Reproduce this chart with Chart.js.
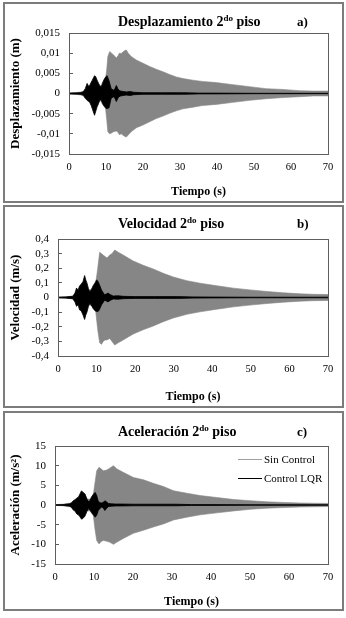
<!DOCTYPE html>
<html><head><meta charset="utf-8">
<script src="https://cdn.jsdelivr.net/npm/chart.js@4"></script>
<style>
body{margin:0;width:346px;height:618px;background:#fff;position:relative;overflow:hidden;font-family:"Liberation Serif","Times New Roman",serif;color:#000;}
.panel{position:absolute;left:3px;width:341px;box-sizing:border-box;border:2px solid #7c7c7c;}
canvas{position:absolute;left:0;}
.ttl{position:absolute;left:118px;font-weight:bold;font-size:14px;line-height:16px;white-space:nowrap;}
.ttl sup{font-size:9px;line-height:0;vertical-align:5px;}
.lab{position:absolute;left:297px;font-weight:bold;font-size:13px;line-height:16px;}
.lgl{position:absolute;left:238px;width:24px;height:1px;}
.lgt{position:absolute;left:264px;font-size:11px;line-height:14px;white-space:nowrap;}
</style></head>
<body>
<div class="panel" style="top:2px;height:201px"></div>
<div class="panel" style="top:205px;height:203px"></div>
<div class="panel" style="top:411px;height:200px"></div>
<canvas id="c1" width="346" height="205" style="top:0px"></canvas>
<canvas id="c2" width="346" height="205" style="top:205px"></canvas>
<canvas id="c3" width="346" height="205" style="top:410px"></canvas>
<div class="ttl" style="top:14px">Desplazamiento 2<sup>do</sup> piso</div><div class="lab" style="top:14px">a)</div>
<div class="ttl" style="top:216px">Velocidad 2<sup>do</sup> piso</div><div class="lab" style="top:216px">b)</div>
<div class="ttl" style="top:424px">Aceleración 2<sup>do</sup> piso</div><div class="lab" style="top:424px">c)</div>
<div class="lgl" style="top:459px;background:#a0a0a0"></div><div class="lgt" style="top:452px">Sin Control</div>
<div class="lgl" style="top:478px;background:#000"></div><div class="lgt" style="top:471px">Control LQR</div>
<script>
// ---- Data (envelopes) ----
const seriesNames = ['Sin Control', 'Control LQR'];
const xTicks = [0, 10, 20, 30, 40, 50, 60, 70];

// Panel a) Desplazamiento (m)
const dispT_sin = [0,2,4,5,6,7,8,9,9.8,10.2,10.5,11,11.5,12,12.8,13.3,13.6,14.1,15,15.5,16,16.8,18.2,20,21.8,23.6,25.4,27.2,29,30.8,33.5,36,39.8,44.3,48.8,53.3,57.8,62.3,66,70];
const dispUp_sin = [0.0001,0.0002,0.0005,0.0015,0.002,0.003,0.0018,0.002,0.003,0.006,0.0092,0.0104,0.01,0.0096,0.0088,0.0094,0.01,0.0099,0.0106,0.0108,0.01,0.0092,0.0083,0.0075,0.0067,0.006,0.0054,0.0047,0.0041,0.0037,0.0033,0.003,0.0027,0.0022,0.0017,0.0012,0.001,0.0007,0.0006,0.0006];
const dispLo_sin = [-0.0001,-0.0002,-0.0005,-0.0015,-0.002,-0.003,-0.0018,-0.002,-0.003,-0.0065,-0.0095,-0.01,-0.0098,-0.0095,-0.0093,-0.0097,-0.0102,-0.01,-0.0106,-0.0108,-0.0103,-0.0095,-0.0085,-0.0078,-0.007,-0.0062,-0.0056,-0.0049,-0.0043,-0.0038,-0.0034,-0.003,-0.0027,-0.0022,-0.0017,-0.0013,-0.001,-0.0008,-0.0006,-0.0006];
const dispT_lqr = [0,3,3.8,4.4,4.9,5.3,5.6,6.0,6.3,6.9,7.2,7.6,8.0,8.3,8.7,9.0,9.6,10.0,10.3,10.8,11.4,12.0,12.4,12.8,13.2,13.5,14.0,14.6,15.5,16.5,17.5,20,25,31,35,40,50,70];
const dispUp_lqr = [0.0001,0.0002,0.0004,0.0012,0.0025,0.0018,0.002,0.0028,0.0033,0.0044,0.0042,0.0033,0.0025,0.002,0.0015,0.0025,0.0037,0.0042,0.0044,0.0032,0.0012,0.0008,0.0012,0.002,0.0012,0.0008,0.0006,0.0005,0.0004,0.0005,0.0003,0.0002,0.0002,0.0002,0.0001,0.0001,0.00005,0.00005];
const dispLo_lqr = [-0.0001,-0.0002,-0.0004,-0.0012,-0.0017,-0.002,-0.0022,-0.003,-0.0038,-0.0054,-0.0045,-0.0033,-0.0025,-0.0017,-0.0015,-0.0025,-0.0033,-0.0037,-0.0037,-0.0036,-0.0012,-0.0008,-0.0012,-0.002,-0.0012,-0.0008,-0.0006,-0.0005,-0.0004,-0.0005,-0.0003,-0.0002,-0.0002,-0.0002,-0.0001,-0.0001,-0.00005,-0.00005];
const dispTickVals = [-0.015,-0.01,-0.005,0,0.005,0.01,0.015];
const dispTickLabels = ['-0,015','-0,01','-0,005','0','0,005','0,01','0,015'];

// Panel b) Velocidad (m/s)
const velT_sin = [0,2,4,5,6,7,8,9,9.8,10.3,10.8,11.3,11.7,12.2,12.7,13.4,14,14.7,15.6,16.9,18.2,19.5,22.1,24.7,27.3,29.9,33.4,36.8,41.2,45.5,49.8,54.2,58.5,62.8,66,70];
const velUp_sin = [0.003,0.005,0.01,0.04,0.06,0.08,0.05,0.06,0.1,0.2,0.31,0.30,0.29,0.28,0.27,0.29,0.30,0.325,0.31,0.29,0.27,0.25,0.22,0.195,0.165,0.14,0.115,0.098,0.08,0.064,0.052,0.041,0.032,0.025,0.022,0.02];
const velLo_sin = [-0.003,-0.005,-0.01,-0.04,-0.06,-0.08,-0.05,-0.06,-0.1,-0.22,-0.31,-0.32,-0.30,-0.29,-0.29,-0.28,-0.30,-0.325,-0.31,-0.29,-0.27,-0.25,-0.22,-0.195,-0.165,-0.14,-0.115,-0.098,-0.08,-0.064,-0.052,-0.041,-0.032,-0.025,-0.022,-0.02];
const velT_lqr = [0,2,3.8,4.4,4.8,5.2,5.6,6.0,6.5,6.9,7.2,7.5,7.9,8.2,8.6,9.1,9.6,10.0,10.4,10.7,11.3,12.1,12.6,13.0,13.5,14.3,15.5,17,20,25,31,35,40,50,70];
const velUp_lqr = [0.002,0.004,0.008,0.03,0.065,0.05,0.08,0.09,0.11,0.15,0.12,0.10,0.06,0.04,0.05,0.08,0.1,0.12,0.11,0.09,0.05,0.018,0.025,0.03,0.02,0.01,0.012,0.008,0.006,0.006,0.006,0.004,0.003,0.002,0.002];
const velLo_lqr = [-0.002,-0.004,-0.008,-0.03,-0.06,-0.05,-0.085,-0.09,-0.12,-0.15,-0.12,-0.10,-0.06,-0.04,-0.05,-0.075,-0.09,-0.095,-0.095,-0.085,-0.05,-0.018,-0.025,-0.03,-0.02,-0.01,-0.012,-0.008,-0.006,-0.006,-0.006,-0.004,-0.003,-0.002,-0.002];
const velTickVals = [-0.4,-0.3,-0.2,-0.1,0,0.1,0.2,0.3,0.4];
const velTickLabels = ['-0,4','-0,3','-0,2','-0,1','0','0,1','0,2','0,3','0,4'];

// Panel c) Aceleración (m/s²)
const accT_sin = [0,2,4,5,6,7,8,9,9.8,10.3,10.7,11.3,11.8,12.4,13.3,14.1,15,15.8,17.5,20.1,22.7,25.2,27.8,30.4,33.8,37.2,41.5,45.8,50,54.3,58.6,62.9,66,70];
const accUp_sin = [0.1,0.2,0.5,1.2,1.5,2.0,1.5,1.5,2.5,6.0,8.7,9.6,9.2,8.7,8.9,9.4,10.0,9.2,8.3,7.0,6.4,5.5,4.7,3.6,3.0,2.4,1.9,1.4,1.1,0.8,0.65,0.5,0.45,0.4];
const accLo_sin = [-0.1,-0.2,-0.5,-1.2,-1.5,-2.0,-1.5,-1.5,-2.5,-6.5,-9.0,-9.9,-9.3,-9.0,-9.2,-9.5,-10.0,-9.5,-8.5,-7.2,-6.4,-5.6,-4.8,-3.8,-3.1,-2.5,-2.0,-1.5,-1.1,-0.8,-0.65,-0.5,-0.45,-0.4];
const accT_lqr = [0,2,3.8,4.3,4.7,5.1,5.6,6.0,6.4,6.8,7.2,7.7,8.2,8.6,9.0,9.4,9.9,10.3,10.7,11.1,11.6,12.0,12.4,12.8,13.2,13.7,14.5,15.5,17,20,25,31,35,40,50,70];
const accUp_lqr = [0.05,0.1,0.3,0.6,1.1,1.3,1.8,2.0,2.8,3.6,3.2,2.8,1.5,0.8,1.2,2.1,2.8,3.2,2.4,0.9,0.6,0.5,0.7,1.1,0.8,0.4,0.3,0.25,0.25,0.2,0.2,0.2,0.1,0.1,0.05,0.05];
const accLo_lqr = [-0.05,-0.1,-0.3,-0.7,-1.3,-1.5,-2.3,-2.5,-3.0,-3.6,-3.4,-2.8,-1.6,-0.9,-1.3,-2.0,-2.6,-3.1,-2.6,-1.4,-0.8,-0.5,-0.8,-1.4,-0.9,-0.4,-0.3,-0.25,-0.25,-0.2,-0.2,-0.2,-0.1,-0.1,-0.05,-0.05];
const accTickVals = [-15,-10,-5,0,5,10,15];
const accTickLabels = ['-15','-10','-5','0','5','10','15'];

// ---- Chart building ----
Chart.defaults.font.family = '"Liberation Serif","Times New Roman",serif';
Chart.defaults.color = '#000';
const pts = (t, v) => t.map((x, i) => ({x: x, y: v[i]}));
const GREY = '#868686';

const framePlugin = {
  id: 'frame',
  afterDatasetsDraw(c) {
    const {ctx, chartArea: a} = c;
    ctx.save();
    ctx.strokeStyle = '#5e5e5e';
    ctx.lineWidth = 1;
    ctx.strokeRect(Math.round(a.left) + 0.5, Math.round(a.top) + 0.5, Math.round(a.right - a.left), Math.round(a.bottom - a.top));
    ctx.restore();
  }
};

function makeChart(id, cfg) {
  const H = 205;
  const titleCenter = 192;
  new Chart(document.getElementById(id), {
    type: 'line',
    data: {
      datasets: [
        {label: seriesNames[1], data: pts(cfg.tL, cfg.upL), borderColor: '#000', borderWidth: 0.8, pointRadius: 0, tension: 0, fill: false},
        {label: seriesNames[1], data: pts(cfg.tL, cfg.loL), borderColor: '#000', borderWidth: 0.8, pointRadius: 0, tension: 0, fill: '-1', backgroundColor: '#000'},
        {label: seriesNames[0], data: pts(cfg.tS, cfg.upS), borderColor: GREY, borderWidth: 0.6, pointRadius: 0, tension: 0, fill: false},
        {label: seriesNames[0], data: pts(cfg.tS, cfg.loS), borderColor: GREY, borderWidth: 0.6, pointRadius: 0, tension: 0, fill: '-1', backgroundColor: GREY}
      ]
    },
    options: {
      responsive: false,
      animation: false,
      events: [],
      layout: {padding: {top: cfg.plotTop, right: 18, left: 8, bottom: H - (titleCenter + 7.2)}},
      plugins: {legend: {display: false}, tooltip: {enabled: false}, title: {display: false}},
      scales: {
        x: {
          type: 'linear', min: 0, max: 70,
          afterBuildTicks: s => { s.ticks = xTicks.map(v => ({value: v})); },
          afterFit: s => { s.height = titleCenter + 7.2 - cfg.plotBottom; },
          grid: {display: false, drawTicks: false},
          border: {display: false},
          ticks: {font: {size: 10.5}, padding: 7, maxRotation: 0, autoSkip: false},
          title: {display: true, text: 'Tiempo (s)', font: {size: 12, weight: 'bold'}, padding: 0}
        },
        y: {
          min: cfg.yTickVals[0], max: cfg.yTickVals[cfg.yTickVals.length - 1],
          afterBuildTicks: s => { s.ticks = cfg.yTickVals.map(v => ({value: v})); },
          afterFit: s => { s.width = cfg.plotLeft - 8; },
          grid: {display: true, drawOnChartArea: false, drawTicks: true, tickLength: -4, color: '#5e5e5e'},
          border: {display: false},
          ticks: {font: {size: 11}, padding: 13, autoSkip: false, callback: (v, i) => cfg.yTickLabels[i]},
          title: {display: true, text: cfg.yTitle, font: {size: 13, weight: 'bold'}, padding: 0}
        }
      }
    },
    plugins: [framePlugin]
  });
}

makeChart('c1', {tS: dispT_sin, upS: dispUp_sin, loS: dispLo_sin, tL: dispT_lqr, upL: dispUp_lqr, loL: dispLo_lqr,
  yTickVals: dispTickVals, yTickLabels: dispTickLabels, yTitle: 'Desplazamiento (m)', plotTop: 33, plotBottom: 154, plotLeft: 69});
makeChart('c2', {tS: velT_sin, upS: velUp_sin, loS: velLo_sin, tL: velT_lqr, upL: velUp_lqr, loL: velLo_lqr,
  yTickVals: velTickVals, yTickLabels: velTickLabels, yTitle: 'Velocidad (m/s)', plotTop: 34, plotBottom: 151, plotLeft: 58});
makeChart('c3', {tS: accT_sin, upS: accUp_sin, loS: accLo_sin, tL: accT_lqr, upL: accUp_lqr, loL: accLo_lqr,
  yTickVals: accTickVals, yTickLabels: accTickLabels, yTitle: 'Aceleración (m/s²)', plotTop: 36, plotBottom: 154, plotLeft: 55});
</script>
</body></html>
